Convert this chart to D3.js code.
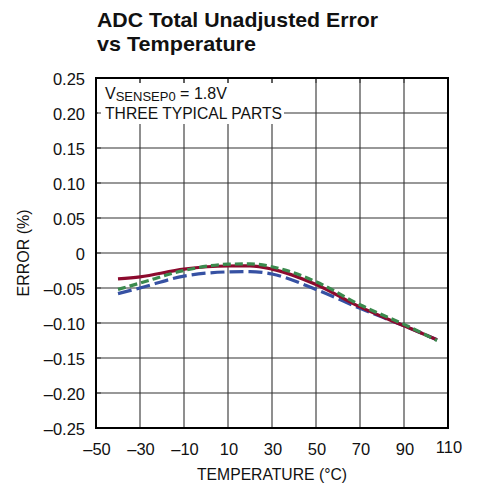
<!DOCTYPE html>
<html><head><meta charset="utf-8">
<script src="https://cdn.jsdelivr.net/npm/d3@7"></script>
<style>
html,body{margin:0;padding:0;background:#fff;}
svg{display:block;}
text{font-family:"Liberation Sans",Arial,sans-serif;fill:#111;}
text.cond{font-family:"Liberation Sans Narrow","Arial Narrow","Liberation Sans",sans-serif;}
</style></head>
<body>
<script>
const temps = [-40, -30, -10, 10, 20, 30, 50, 70, 90, 105];
const partRed   = [-0.037, -0.034, -0.023, -0.0186, -0.0185, -0.023, -0.045, -0.077, -0.104, -0.124];
const partGreen = [-0.052, -0.043, -0.025, -0.016, -0.0155, -0.0196, -0.041, -0.074, -0.102, -0.125];
const partBlue  = [-0.058, -0.050, -0.033, -0.027, -0.0265, -0.030, -0.052, -0.079, -0.104, -0.124];
const xTicks = [-50, -30, -10, 10, 30, 50, 70, 90, 110];
const yTicks = [0.25, 0.20, 0.15, 0.10, 0.05, 0, -0.05, -0.10, -0.15, -0.20, -0.25];
const titleLines = ["ADC Total Unadjusted Error", "vs Temperature"];

const W = 478, H = 491;
const m = {left: 96, right: 30, top: 78, bottom: 63};
const svg = d3.select("body").append("svg").attr("width", W).attr("height", H);

const x = d3.scaleLinear().domain([-50, 110]).range([m.left, W - m.right]);
const y = d3.scaleLinear().domain([-0.25, 0.25]).range([H - m.bottom, m.top]);

// title
const titleLen = [281, 159];
titleLines.forEach((t, i) => {
  svg.append("text").attr("class", "cond").attr("x", 97).attr("y", 26.5 + i * 24)
    .attr("font-size", 21).attr("font-weight", "bold")
    .attr("textLength", titleLen[i]).attr("lengthAdjust", "spacingAndGlyphs").text(t);
});

// grid
const g = svg.append("g");
g.selectAll(".vg").data(xTicks).join("line")
  .attr("x1", d => x(d)).attr("x2", d => x(d))
  .attr("y1", y(0.25)).attr("y2", y(-0.25))
  .attr("stroke", "#333").attr("stroke-width", 1.1);
g.selectAll(".hg").data(yTicks).join("line")
  .attr("y1", d => y(d)).attr("y2", d => y(d))
  .attr("x1", x(-50)).attr("x2", x(110))
  .attr("stroke", "#333").attr("stroke-width", 1.1);

// annotation box (covers grid)
svg.append("rect").attr("x", x(-50) + 2).attr("y", y(0.25) + 5)
  .attr("width", 186).attr("height", 41).attr("fill", "#fff");
svg.selectAll(".tt").data(xTicks).join("line")
  .attr("x1", d => x(d)).attr("x2", d => x(d))
  .attr("y1", y(0.25)).attr("y2", y(0.25) + 5)
  .attr("stroke", "#333");
svg.selectAll(".lt").data(yTicks).join("line")
  .attr("x1", x(-50)).attr("x2", x(-50) + 5)
  .attr("y1", d => y(d)).attr("y2", d => y(d))
  .attr("stroke", "#333");

const ann = svg.append("text").attr("x", 105).attr("y", 99).attr("font-size", 16);
ann.append("tspan").text("V");
ann.append("tspan").attr("font-size", 13).attr("dy", 2).text("SENSEP0");
ann.append("tspan").attr("dy", -2).text(" = 1.8V");
svg.append("text").attr("x", 105).attr("y", 119).attr("font-size", 16)
  .attr("textLength", 177).attr("lengthAdjust", "spacingAndGlyphs").text("THREE TYPICAL PARTS");

// border
svg.append("rect").attr("x", x(-50)).attr("y", y(0.25))
  .attr("width", x(110) - x(-50)).attr("height", y(-0.25) - y(0.25))
  .attr("fill", "none").attr("stroke", "#000").attr("stroke-width", 2);

// axes labels
const fmtY = d => d === 0 ? "0" : (d < 0 ? "\u2013" : "") + Math.abs(d).toFixed(2);
svg.selectAll(".yl").data(yTicks).join("text")
  .attr("x", x(-50) - 11).attr("y", d => y(d) + 7)
  .attr("text-anchor", "end").attr("font-size", 16.5).text(fmtY);
svg.selectAll(".xl").data(xTicks).join("text")
  .attr("x", d => x(d) + 1).attr("y", d => d === 110 ? 453 : 455)
  .attr("text-anchor", "middle").attr("font-size", 16.5)
  .text(d => (d < 0 ? "\u2013" : "") + Math.abs(d));
svg.append("text").attr("x", (x(-50) + x(110)) / 2).attr("y", 480)
  .attr("text-anchor", "middle").attr("font-size", 17)
  .attr("textLength", 150).attr("lengthAdjust", "spacingAndGlyphs").text("TEMPERATURE (°C)");
svg.append("text").attr("transform", `translate(29,${y(0)}) rotate(-90)`)
  .attr("text-anchor", "middle").attr("font-size", 16.5)
  .attr("textLength", 87).attr("lengthAdjust", "spacingAndGlyphs").text("ERROR (%)");

// series
const line = d3.line().x((d, i) => x(temps[i])).y(d => y(d)).curve(d3.curveMonotoneX);
const series = [
  {vals: partBlue, color: "#3651a3", dash: "14,5"},
  {vals: partRed, color: "#8c0a2e", dash: null},
  {vals: partGreen, color: "#3b8a4e", dash: "8,4"}
];
series.forEach(s => {
  svg.append("path").attr("d", line(s.vals)).attr("fill", "none")
    .attr("stroke", s.color).attr("stroke-width", 3.2)
    .attr("stroke-dasharray", s.dash);
});
</script>
</body></html>
